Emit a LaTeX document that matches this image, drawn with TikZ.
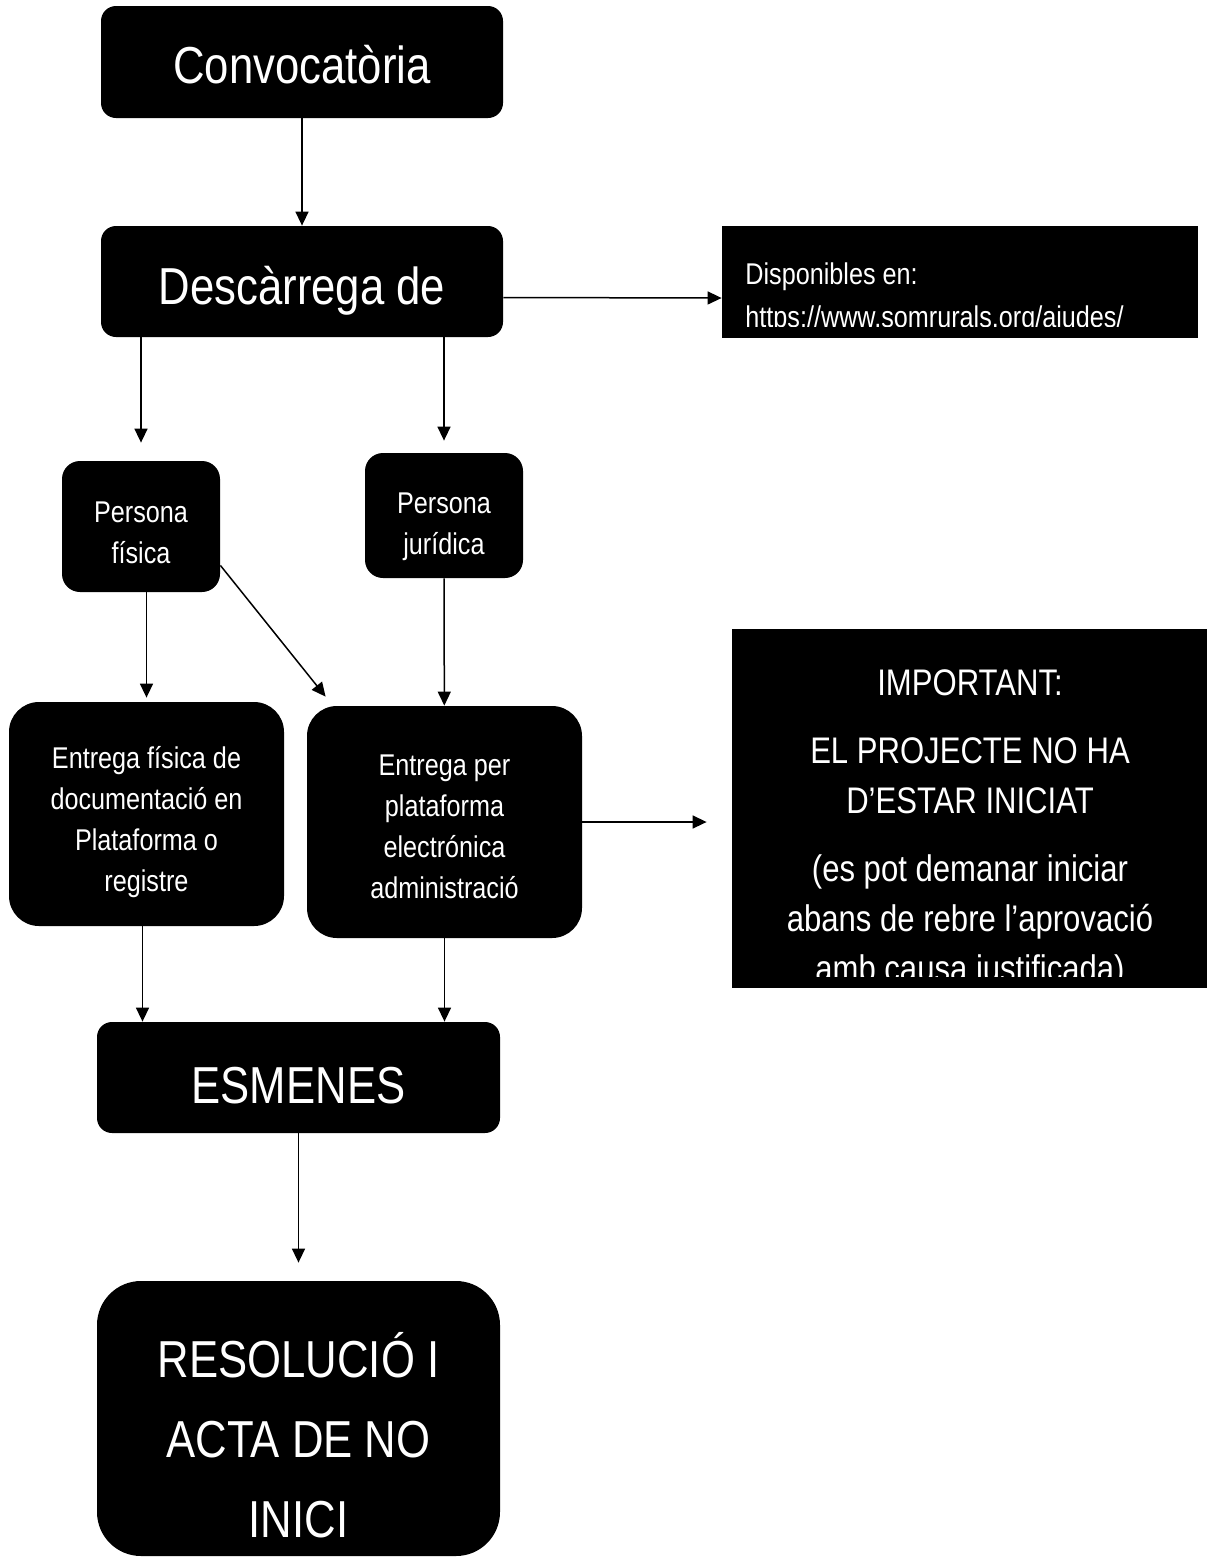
\documentclass[tikz,border=0pt]{standalone}
\usepackage{fontspec}
\setmainfont{Liberation Sans}[FakeStretch=0.84]
\usetikzlibrary{arrows.meta,positioning}

\begin{document}
\begin{tikzpicture}[
  x=0.5pt, y=-0.5pt,
  blk/.style={fill=black, text=white, rounded corners=7.5pt, align=center, inner sep=0pt},
  big/.style={blk, minimum width=201pt, minimum height=56pt, font=\fontsize{26}{32}\selectfont},
  small/.style={blk, rounded corners=9pt, minimum width=79pt, font=\fontsize{15}{20.5}\selectfont},
  mid/.style={blk, rounded corners=15pt, minimum width=137.5pt, font=\fontsize{15}{20.5}\selectfont},
  note/.style={fill=black, inner sep=0pt},
  wtext/.style={text=white, inner sep=0pt},
  drop/.style={execute at begin node={\rule{0pt}{#1}}},
  arr/.style={-{Triangle[length=7pt,width=6.5pt]}, line width=0.75pt},
]
\useasboundingbox (0,0) rectangle (1207,1559);

\node[big, drop=22pt] (conv) at (302,62) {Convocatòria};
\node[big, drop=28.5pt, minimum height=55.5pt] (desc) at (302,281.5) {Descàrrega de};
\node[note, minimum width=238pt, minimum height=56pt] (disp) at (960,282) {};
\node[small, drop=37pt, minimum height=65.5pt] (pf) at (141,526.5) {Persona\\física};
\node[small, drop=42pt, minimum height=62.5pt] (pj) at (444,515.5) {Persona\\jurídica};
\node[mid, drop=81pt, minimum height=112pt] (ef) at (146.5,814) {Entrega física de\\documentació en\\Plataforma o\\registre};
\node[mid, drop=76.5pt, minimum height=116pt] (ep) at (444.5,822) {Entrega per\\plataforma\\electrónica\\administració};
\node[note, minimum width=237.5pt, minimum height=179.5pt] (imp) at (969.5,808.5) {};
\node[big, drop=26pt, minimum width=201.5pt, minimum height=55.5pt] (esm) at (298.5,1077.5) {ESMENES};
\node[big, minimum width=201.5pt, rounded corners=22pt, minimum height=137.5pt] (res) at (298.5,1418.5) {};
\node[wtext, align=center, font=\fontsize{26}{40}\selectfont] (restext) at (298.5,1435) {RESOLUCIÓ I\\ACTA DE NO\\INICI};

% texts cut off at the bottom of their boxes
\begin{scope}
  \clip (disp.north west) rectangle ([yshift=6pt]disp.south east);
  \node[wtext, anchor=west, align=left, font=\fontsize{15}{21.5}\selectfont] (disptext) at (745,298) {Disponibles en:\\https://www.somrurals.org/ajudes/};
\end{scope}
\begin{scope}
  \clip (imp.north west) rectangle ([yshift=6pt]imp.south east);
  \node[wtext, align=center, font=\fontsize{18.5}{25}\selectfont] (imptext) at (970,829) {IMPORTANT:\\[9pt]EL PROJECTE NO HA\\D’ESTAR INICIAT\\[9pt](es pot demanar iniciar\\abans de rebre l’aprovació\\amb causa justificada)};
\end{scope}

\draw[arr] (conv) -- (desc);
\draw[arr] ([yshift=-8pt]desc.east) -- ([yshift=-8pt]disp.west);
\draw[arr] (desc.south -| pf) -- ([yshift=9pt]pf.north);
\draw[arr] (desc.south -| pj) -- ([yshift=6pt]pj.north);
\draw[arr, shorten >=2pt] (pf.south -| ef) -- (ef.north);
\draw[arr] ([yshift=13.5pt]pf.south east) -- ([xshift=9.5pt,yshift=4.5pt]ep.north west);
\draw[arr] (pj) -- (ep);
\draw[arr] (ep.east) -- ([xshift=-12.5pt]imp.west |- ep.east);
\draw[arr] ([xshift=-2pt]ef.south) -- ([xshift=-2pt]ef.south |- esm.north);
\draw[arr] (ep.south) -- (ep.south |- esm.north);
\draw[arr] (esm) -- ([yshift=9pt]res.north);
\end{tikzpicture}
\end{document}
